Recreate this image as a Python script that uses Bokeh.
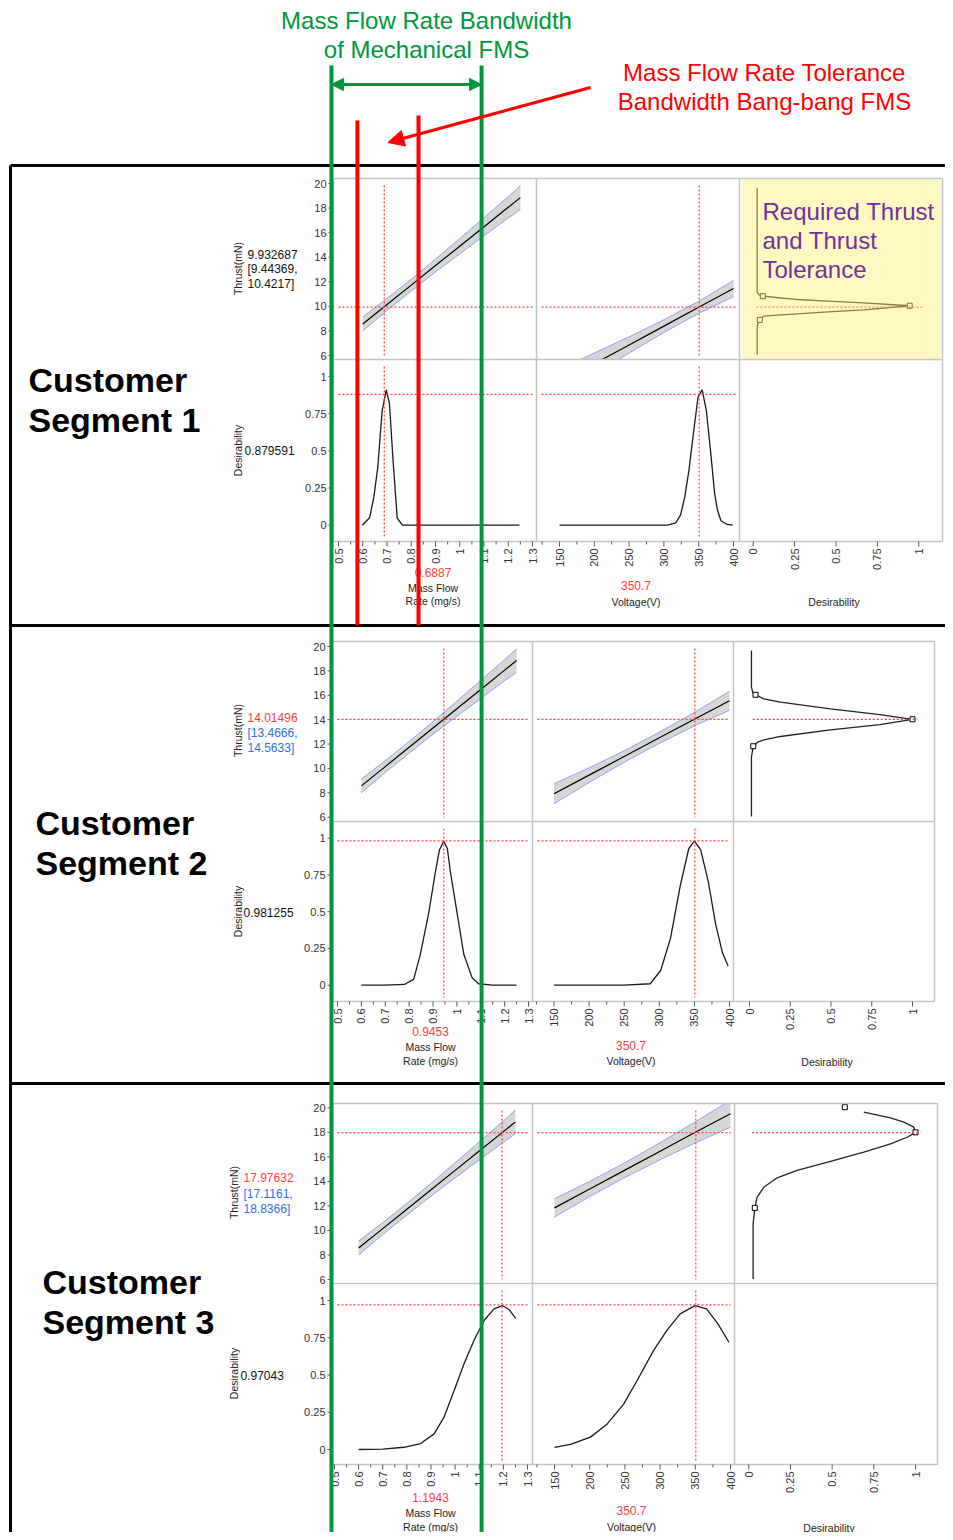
import math
from bokeh.plotting import figure
from bokeh.models import Range1d, Arrow, NormalHead
from bokeh.embed import file_html
from bokeh.resources import INLINE
from bokeh.core.properties import value

# ------------------------------------------------------------------ data
segment_word = ["Customer", "Customer", "Customer"]
segment_name = ["Segment 1", "Segment 2", "Segment 3"]

mass_ticks = [0.5, 0.6, 0.7, 0.8, 0.9, 1.0, 1.1, 1.2, 1.3]
mass_tick_labels = ["0.5", "0.6", "0.7", "0.8", "0.9", "1", "1.1", "1.2", "1.3"]
mass_minor_ticks = [0.55, 0.65, 0.75, 0.85, 0.95, 1.05, 1.15, 1.25]
volt_ticks = [150, 200, 250, 300, 350, 400]
volt_tick_labels = ["150", "200", "250", "300", "350", "400"]
volt_minor_ticks = [125, 175, 225, 275, 325, 375]
thrust_ticks = [6, 8, 10, 12, 14, 16, 18, 20]
thrust_tick_labels = ["6", "8", "10", "12", "14", "16", "18", "20"]
des_ticks = [0, 0.25, 0.5, 0.75, 1]
des_tick_labels = ["0", "0.25", "0.5", "0.75", "1"]

mass_setting = [0.6887, 0.9453, 1.1943]
mass_setting_text = ["0.6887", "0.9453", "1.1943"]
volt_setting = [350.7, 350.7, 350.7]
volt_setting_text = ["350.7", "350.7", "350.7"]
thrust_pred = [9.932687, 14.01496, 17.97632]
thrust_pred_text = ["9.932687", "14.01496", "17.97632"]
thrust_ci_lo_text = ["[9.44369,", "[13.4666,", "[17.1161,"]
thrust_ci_hi_text = ["10.4217]", "14.5633]", "18.8366]"]
des_value = [0.879591, 0.981255, 0.97043]
des_value_text = ["0.879591", "0.981255", "0.97043"]

# thrust profile vs mass flow rate (same model in all segments)
tm_mass = [0.60, 0.70, 0.80, 0.90, 1.00, 1.10, 1.20, 1.25]
tm_thrust = [8.57, 10.15, 11.73, 13.32, 14.90, 16.48, 18.06, 18.85]
tm_upper = [9.14, 10.64, 12.21, 13.84, 15.52, 17.22, 18.93, 19.82]
tm_lower = [8.00, 9.66, 11.25, 12.80, 14.28, 15.74, 17.19, 17.88]

# thrust profile vs voltage
tv_volt = [150, 200, 250, 300, 350, 400]
tv_thrust_s1 = [3.80, 5.33, 6.86, 8.39, 9.92, 11.45]
tv_upper_s1 = [4.85, 6.21, 7.52, 8.91, 10.41, 12.11]
tv_lower_s1 = [2.75, 4.45, 6.20, 7.87, 9.43, 10.79]
tv_thrust_s2 = [7.92, 9.45, 10.98, 12.51, 14.04, 15.55]
tv_upper_s2 = [8.74, 10.05, 11.45, 12.97, 14.59, 16.33]
tv_lower_s2 = [7.10, 8.85, 10.51, 12.05, 13.49, 14.77]
tv_thrust_s3 = [11.84, 13.38, 14.92, 16.46, 18.00, 19.52]
tv_upper_s3 = [12.59, 14.00, 15.52, 17.16, 18.86, 20.62]
tv_lower_s3 = [11.09, 12.76, 14.32, 15.76, 17.14, 18.42]

# desirability vs mass flow rate
dm_mass_s1 = [0.598, 0.628, 0.646, 0.662, 0.680, 0.697, 0.710, 0.725, 0.742, 0.763, 1.246]
dm_des_s1 = [0.0, 0.05, 0.19, 0.39, 0.77, 0.91, 0.82, 0.435, 0.05, 0.0, 0.0]
dm_mass_s2 = [0.60, 0.70, 0.78, 0.819, 0.847, 0.882, 0.910, 0.927, 0.945, 0.960, 0.973,
              1.001, 1.029, 1.064, 1.091, 1.15, 1.25]
dm_des_s2 = [0.0, 0.0, 0.005, 0.04, 0.21, 0.49, 0.77, 0.92, 0.98, 0.93, 0.77,
             0.49, 0.21, 0.05, 0.01, 0.0, 0.0]
dm_mass_s3 = [0.60, 0.70, 0.788, 0.857, 0.913, 0.954, 0.996, 1.037, 1.078, 1.12, 1.161,
              1.196, 1.223, 1.251]
dm_des_s3 = [0.0, 0.003, 0.015, 0.04, 0.105, 0.217, 0.396, 0.575, 0.732, 0.866, 0.944,
             0.966, 0.94, 0.88]

# desirability vs voltage
dv_volt_s1 = [150, 305, 317, 324, 330, 336, 343, 349, 355, 361, 367, 373, 377, 382, 391, 399]
dv_des_s1 = [0, 0, 0.016, 0.07, 0.19, 0.37, 0.64, 0.86, 0.91, 0.77, 0.50, 0.21, 0.10, 0.03, 0.005, 0]
dv_volt_s2 = [150, 250, 287, 302, 316, 330, 342, 350, 359, 370, 380, 390, 398]
dv_des_s2 = [0, 0, 0.01, 0.1, 0.32, 0.68, 0.93, 0.98, 0.92, 0.7, 0.42, 0.22, 0.13]
dv_volt_s3 = [150, 172.7, 201, 224.6, 248.2, 267, 290.6, 309.6, 328.5, 349.7, 366, 382.6, 397.8]
dv_des_s3 = [0.015, 0.034, 0.083, 0.17, 0.305, 0.46, 0.664, 0.8, 0.91, 0.966, 0.944, 0.84, 0.72]

# thrust desirability functions (x = desirability, y = thrust)
dt_des_s1 = [0.024, 0.024, 0.034, 0.058, 0.15, 0.265, 0.45, 0.667, 0.945, 0.667, 0.45, 0.265,
             0.12, 0.064, 0.040, 0.028, 0.024, 0.024]
dt_thr_s1 = [19.65, 11.16, 10.95, 10.83, 10.70, 10.56, 10.43, 10.29, 10.05, 9.72, 9.55, 9.39,
             9.26, 9.20, 8.90, 8.60, 8.30, 6.06]
dt_mark_des_s1 = [0.058, 0.945, 0.040]
dt_mark_thr_s1 = [10.83, 10.05, 8.90]
dt_des_s2 = [0.012, 0.012, 0.02, 0.037, 0.088, 0.19, 0.497, 0.80, 1.0, 0.80, 0.497, 0.19,
             0.088, 0.047, 0.023, 0.012, 0.012]
dt_thr_s2 = [19.67, 16.66, 16.25, 16.04, 15.71, 15.43, 14.89, 14.42, 14.03, 13.6, 13.17, 12.62,
             12.35, 12.13, 11.82, 10.92, 6.05]
dt_mark_des_s2 = [0.037, 1.0, 0.023]
dt_mark_thr_s2 = [16.04, 14.03, 11.82]
dt_des_s3 = [0.026, 0.026, 0.036, 0.05, 0.09, 0.17, 0.29, 0.49, 0.69, 0.85, 0.95, 1.0, 0.99,
             0.93, 0.85, 0.69]
dt_thr_s3 = [6.05, 10.54, 11.84, 12.71, 13.52, 14.29, 14.89, 15.64, 16.38, 17.06, 17.6, 18.0,
             18.42, 18.83, 19.18, 19.64]
dt_mark_des_s3 = [0.036, 1.0, 0.576]
dt_mark_thr_s3 = [11.84, 18.0, 20.05]

# annotation bands (mass flow rate, mg/s)
mech_bandwidth = [0.471, 1.09]
bangbang_tolerance = [0.578, 0.83]
green_title = ["Mass Flow Rate Bandwidth", "of Mechanical FMS"]
red_title = ["Mass Flow Rate Tolerance", "Bandwidth Bang-bang FMS"]
highlight_text = ["Required Thrust", "and Thrust", "Tolerance"]

TV = [(tv_thrust_s1, tv_upper_s1, tv_lower_s1), (tv_thrust_s2, tv_upper_s2, tv_lower_s2),
      (tv_thrust_s3, tv_upper_s3, tv_lower_s3)]
DM = [(dm_mass_s1, dm_des_s1), (dm_mass_s2, dm_des_s2), (dm_mass_s3, dm_des_s3)]
DV = [(dv_volt_s1, dv_des_s1), (dv_volt_s2, dv_des_s2), (dv_volt_s3, dv_des_s3)]
DT = [(dt_des_s1, dt_thr_s1, dt_mark_des_s1, dt_mark_thr_s1),
      (dt_des_s2, dt_thr_s2, dt_mark_des_s2, dt_mark_thr_s2),
      (dt_des_s3, dt_thr_s3, dt_mark_des_s3, dt_mark_thr_s3)]

# ------------------------------------------------------------------ layout / style
GREEN = "#00963F"
RED = "#FF0000"
JRED = "#FF3D3D"
JBLUE = "#2C6FE6"
GRID = "#C3C3C3"
BAND = "#D6D6D6"
BANDEDGE = "#8CA7EE"
PURPLE = "#7030A0"
FONT = value("Liberation Sans")

W, H = 945, 1532
X0, Y0 = 0, 0

SEG = [
    dict(L=333, C1=536, C2=739, R=942, T=178, M=359, B=541,
         mass=(0.5, 338, 1.3, 532), volt=(150, 559, 400, 733), desx=(0, 752.7, 1, 918.3),
         thr=(20, 183, 6, 355), des=(1, 376, 0, 524.7),
         thr_lab=(237, 268), thr_val=(247, 254, 268.5, 283), des_lab=(237, 450), des_val=(244, 450),
         mval_y=572, vval_y=585, mtit_y=(587, 600), vtit_y=601, dtit_y=601,
         big=(28, 379, 419), sep_top=165),
    dict(L=332, C1=532, C2=733, R=934, T=641, M=821, B=1001,
         mass=(0.5, 337, 1.3, 528), volt=(150, 553.5, 400, 729), desx=(0, 749, 1, 912),
         thr=(20, 646, 6, 816.7), des=(1, 837.7, 0, 984.7),
         thr_lab=(237, 730), thr_val=(247, 717, 732, 747), des_lab=(237, 911), des_val=(243, 912),
         mval_y=1031, vval_y=1045, mtit_y=(1046, 1060), vtit_y=1060, dtit_y=1061,
         big=(35, 822, 862), sep_top=625),
    dict(L=332, C1=532, C2=734, R=937, T=1103, M=1283, B=1464,
         mass=(0.5, 334, 1.3, 527), volt=(150, 554, 400, 730), desx=(0, 748.3, 1, 915),
         thr=(20, 1107.3, 6, 1279), des=(1, 1300, 0, 1449),
         thr_lab=(233, 1192), thr_val=(243, 1177, 1193, 1208), des_lab=(233, 1373), des_val=(240, 1375),
         mval_y=1497, vval_y=1510, mtit_y=(1512, 1526), vtit_y=1526, dtit_y=1527,
         big=(42, 1281, 1321), sep_top=1083),
]

p = figure(width=W, height=H, x_range=Range1d(X0, X0 + W), y_range=Range1d(Y0 + H, Y0),
           output_backend="svg", toolbar_location=None, min_border=0, title=None,
           x_axis_type=None, y_axis_type=None, background_fill_color="white",
           border_fill_color="white")
p.outline_line_color = None

xr, yr = {}, {}


def reg_x(name, a):
    v1, p1, v2, p2 = a
    s = (v2 - v1) / (p2 - p1)
    xr[name] = Range1d(start=v1 + (X0 - p1) * s, end=v1 + (X0 + W - p1) * s)


def reg_y(name, a):
    v1, p1, v2, p2 = a
    s = (v2 - v1) / (p2 - p1)
    yr[name] = Range1d(start=v1 + (Y0 + H - p1) * s, end=v1 + (Y0 - p1) * s)


for i, g in enumerate(SEG):
    reg_x(f"mass{i}", g["mass"])
    reg_x(f"volt{i}", g["volt"])
    reg_x(f"desx{i}", g["desx"])
    reg_y(f"thr{i}", g["thr"])
    reg_y(f"des{i}", g["des"])
p.extra_x_ranges = xr
p.extra_y_ranges = yr

dot = dict(line_color=JRED, line_width=1.2, line_dash="2 2")
tick = dict(line_color="#555555", line_width=1)
lab = dict(text_font=FONT, text_font_size="11px", text_color="#333333")

for i, g in enumerate(SEG):
    mx, vx, dx, ty, dy = f"mass{i}", f"volt{i}", f"desx{i}", f"thr{i}", f"des{i}"
    L, C1, C2, R, T, M, B = (g[k] for k in ("L", "C1", "C2", "R", "T", "M", "B"))

    # ---- thrust row
    kmt = dict(x_range_name=mx, y_range_name=ty)
    p.varea(x=tm_mass, y1=tm_lower, y2=tm_upper, fill_color=BAND, **kmt)
    p.line(tm_mass, tm_upper, line_color=BANDEDGE, line_width=1, **kmt)
    p.line(tm_mass, tm_lower, line_color=BANDEDGE, line_width=1, **kmt)
    p.line(tm_mass, tm_thrust, line_color="black", line_width=1.2, **kmt)

    th, up, lo = TV[i]
    kvt = dict(x_range_name=vx, y_range_name=ty)
    p.varea(x=tv_volt, y1=lo, y2=up, fill_color=BAND, **kvt)
    p.line(tv_volt, up, line_color=BANDEDGE, line_width=1, **kvt)
    p.line(tv_volt, lo, line_color=BANDEDGE, line_width=1, **kvt)
    p.line(tv_volt, th, line_color="black", line_width=1.2, **kvt)

    dd, dthr, mdd, mthr = DT[i]
    p.line(dd, dthr, line_color="#222222", line_width=1.3, x_range_name=dx, y_range_name=ty)
    p.scatter(mdd, mthr, marker="square", size=5, fill_color="white", line_color="black",
              line_width=1, x_range_name=dx, y_range_name=ty)

    p.segment(x0=[mass_setting[i]], x1=[mass_setting[i]], y0=[T + 7], y1=[M - 4], x_range_name=mx, **dot)
    p.segment(x0=[volt_setting[i]], x1=[volt_setting[i]], y0=[T + 7], y1=[M - 4], x_range_name=vx, **dot)
    p.segment(x0=[L + 5, C1 + 5], x1=[C1 - 4, C2 - 4], y0=[thrust_pred[i]] * 2, y1=[thrust_pred[i]] * 2,
              y_range_name=ty, **dot)
    p.segment(x0=[0.02], x1=[1.03], y0=[thrust_pred[i]], y1=[thrust_pred[i]],
              x_range_name=dx, y_range_name=ty, **dot)

    # ---- masks (clip overflow of thrust row)
    p.quad(left=[L - 2], right=[R + 2], top=[g["sep_top"] + 3], bottom=[T], fill_color="white", line_color=None)
    p.quad(left=[L], right=[R], top=[M], bottom=[B], fill_color="white", line_color=None)

    # ---- desirability row
    mm, md = DM[i]
    p.line(mm, md, line_color="#1A1A1A", line_width=1.3, x_range_name=mx, y_range_name=dy)
    vv, vd = DV[i]
    p.line(vv, vd, line_color="#1A1A1A", line_width=1.3, x_range_name=vx, y_range_name=dy)
    p.segment(x0=[mass_setting[i]], x1=[mass_setting[i]], y0=[M + 7], y1=[B - 4], x_range_name=mx, **dot)
    p.segment(x0=[volt_setting[i]], x1=[volt_setting[i]], y0=[M + 7], y1=[B - 4], x_range_name=vx, **dot)
    p.segment(x0=[L + 5, C1 + 5], x1=[C1 - 4, C2 - 4], y0=[des_value[i]] * 2, y1=[des_value[i]] * 2,
              y_range_name=dy, **dot)

    # ---- highlight box (segment 1)
    if i == 0:
        p.quad(left=[742], right=[940], top=[T], bottom=[M + 1], fill_color="#FFF176",
               fill_alpha=0.45, line_color=None)

    # ---- frame
    p.multi_line(xs=[[L, R], [L, R], [L, R], [L, L], [C1, C1], [C2, C2], [R, R]],
                 ys=[[T, T], [M, M], [B, B], [T, B], [T, B], [T, B], [T, B]],
                 line_color=GRID, line_width=1.5)

    # ---- ticks
    n = len(thrust_ticks)
    p.segment(x0=[L - 5] * n, x1=[L] * n, y0=thrust_ticks, y1=thrust_ticks, y_range_name=ty, **tick)
    n = len(des_ticks)
    p.segment(x0=[L - 5] * n, x1=[L] * n, y0=des_ticks, y1=des_ticks, y_range_name=dy, **tick)
    p.segment(x0=mass_ticks, x1=mass_ticks, y0=[B] * len(mass_ticks), y1=[B + 5] * len(mass_ticks),
              x_range_name=mx, **tick)
    p.segment(x0=mass_minor_ticks, x1=mass_minor_ticks, y0=[B] * len(mass_minor_ticks),
              y1=[B + 3] * len(mass_minor_ticks), x_range_name=mx, **tick)
    p.segment(x0=volt_ticks, x1=volt_ticks, y0=[B] * len(volt_ticks), y1=[B + 5] * len(volt_ticks),
              x_range_name=vx, **tick)
    p.segment(x0=volt_minor_ticks, x1=volt_minor_ticks, y0=[B] * len(volt_minor_ticks),
              y1=[B + 3] * len(volt_minor_ticks), x_range_name=vx, **tick)
    p.segment(x0=des_ticks, x1=des_ticks, y0=[B] * len(des_ticks), y1=[B + 5] * len(des_ticks),
              x_range_name=dx, **tick)

    # ---- tick labels
    p.text(x=[L - 7] * len(thrust_ticks), y=thrust_ticks, text=thrust_tick_labels,
           text_align="right", text_baseline="middle", y_range_name=ty, **lab)
    p.text(x=[L - 7] * len(des_ticks), y=des_ticks, text=des_tick_labels,
           text_align="right", text_baseline="middle", y_range_name=dy, **lab)
    p.text(x=mass_ticks, y=[B + 7] * len(mass_ticks), text=mass_tick_labels, angle=math.pi / 2,
           text_align="right", text_baseline="middle", x_range_name=mx, **lab)
    p.text(x=volt_ticks, y=[B + 7] * len(volt_ticks), text=volt_tick_labels, angle=math.pi / 2,
           text_align="right", text_baseline="middle", x_range_name=vx, **lab)
    p.text(x=des_ticks, y=[B + 7] * len(des_ticks), text=des_tick_labels, angle=math.pi / 2,
           text_align="right", text_baseline="middle", x_range_name=dx, **lab)

    # ---- row labels
    tx, tyc = g["thr_lab"]
    p.text(x=[tx], y=[tyc], text=["Thrust(mN)"], angle=math.pi / 2, text_align="center",
           text_baseline="middle", text_font=FONT, text_font_size="10.5px", text_color="#222222")
    vx0, v1, v2, v3 = g["thr_val"]
    cols = ["#111111"] * 3 if i == 0 else [JRED, JBLUE, JBLUE]
    p.text(x=[vx0] * 3, y=[v1, v2, v3], text=[thrust_pred_text[i], thrust_ci_lo_text[i], thrust_ci_hi_text[i]],
           text_color=cols, text_font=FONT, text_font_size="12px", text_align="left", text_baseline="middle")
    dlx, dly = g["des_lab"]
    p.text(x=[dlx], y=[dly], text=["Desirability"], angle=math.pi / 2, text_align="center",
           text_baseline="middle", text_font=FONT, text_font_size="10.5px", text_color="#222222")
    dvx, dvy = g["des_val"]
    p.text(x=[dvx], y=[dvy], text=[des_value_text[i]], text_color="#111111", text_font=FONT,
           text_font_size="12px", text_align="left", text_baseline="middle")

    # ---- column titles
    c1c = (L + C1) / 2 - 2
    c2c = (C1 + C2) / 2 - 2
    c3c = (C2 + R) / 2 - 7
    p.text(x=[c1c], y=[g["mval_y"]], text=[mass_setting_text[i]], text_color=JRED, text_font=FONT,
           text_font_size="12px", text_align="center", text_baseline="middle")
    p.text(x=[c1c, c1c], y=list(g["mtit_y"]), text=["Mass Flow", "Rate (mg/s)"], text_color="#222222",
           text_font=FONT, text_font_size="10.5px", text_align="center", text_baseline="middle")
    p.text(x=[c2c], y=[g["vval_y"]], text=[volt_setting_text[i]], text_color=JRED, text_font=FONT,
           text_font_size="12px", text_align="center", text_baseline="middle")
    p.text(x=[c2c], y=[g["vtit_y"]], text=["Voltage(V)"], text_color="#222222", text_font=FONT,
           text_font_size="10.5px", text_align="center", text_baseline="middle")
    p.text(x=[c3c], y=[g["dtit_y"]], text=["Desirability"], text_color="#222222", text_font=FONT,
           text_font_size="10.5px", text_align="center", text_baseline="middle")

    # ---- big segment label
    bx, b1, b2 = g["big"]
    p.text(x=[bx, bx], y=[b1, b2], text=[segment_word[i], segment_name[i]], text_color="black",
           text_font=FONT, text_font_size="34px", text_font_style="bold",
           text_align="left", text_baseline="middle")

# purple highlight text
p.text(x=[762] * 3, y=[211, 240, 269], text=highlight_text, text_color=PURPLE, text_font=FONT,
       text_font_size="24px", text_align="left", text_baseline="middle")

# segment boxes
p.multi_line(xs=[[10, 953], [10, 953], [10, 953], [10, 10]],
             ys=[[165, 165], [625, 625], [1083, 1083], [165, 1540]],
             line_color="black", line_width=3)

# bandwidth overlays (in segment-1 mass flow scale)
p.segment(x0=bangbang_tolerance, x1=bangbang_tolerance, y0=[120, 115], y1=[625, 625],
          line_color=RED, line_width=4, x_range_name="mass0")
p.segment(x0=mech_bandwidth, x1=mech_bandwidth, y0=[65, 65], y1=[1540, 1540],
          line_color=GREEN, line_width=4, x_range_name="mass0")

p.add_layout(Arrow(start=NormalHead(size=12, fill_color=GREEN, line_color=GREEN),
                   end=NormalHead(size=12, fill_color=GREEN, line_color=GREEN),
                   x_start=mech_bandwidth[0], y_start=84, x_end=mech_bandwidth[1], y_end=84,
                   line_color=GREEN, line_width=3, x_range_name="mass0"))

m0 = SEG[0]["mass"]
tail_mass = m0[0] + (590 - m0[1]) * (m0[2] - m0[0]) / (m0[3] - m0[1])
p.add_layout(Arrow(end=NormalHead(size=16, fill_color=RED, line_color=RED),
                   x_start=tail_mass, y_start=87,
                   x_end=sum(bangbang_tolerance) / 2, y_end=142,
                   line_color=RED, line_width=3, x_range_name="mass0"))

p.text(x=[426, 426], y=[20, 49], text=green_title, text_color=GREEN, text_font=FONT,
       text_font_size="24px", text_align="center", text_baseline="middle")
p.text(x=[764, 764], y=[72, 101], text=red_title, text_color=RED, text_font=FONT,
       text_font_size="24px", text_align="center", text_baseline="middle")

open("out.html", "w").write(file_html(p, INLINE))
